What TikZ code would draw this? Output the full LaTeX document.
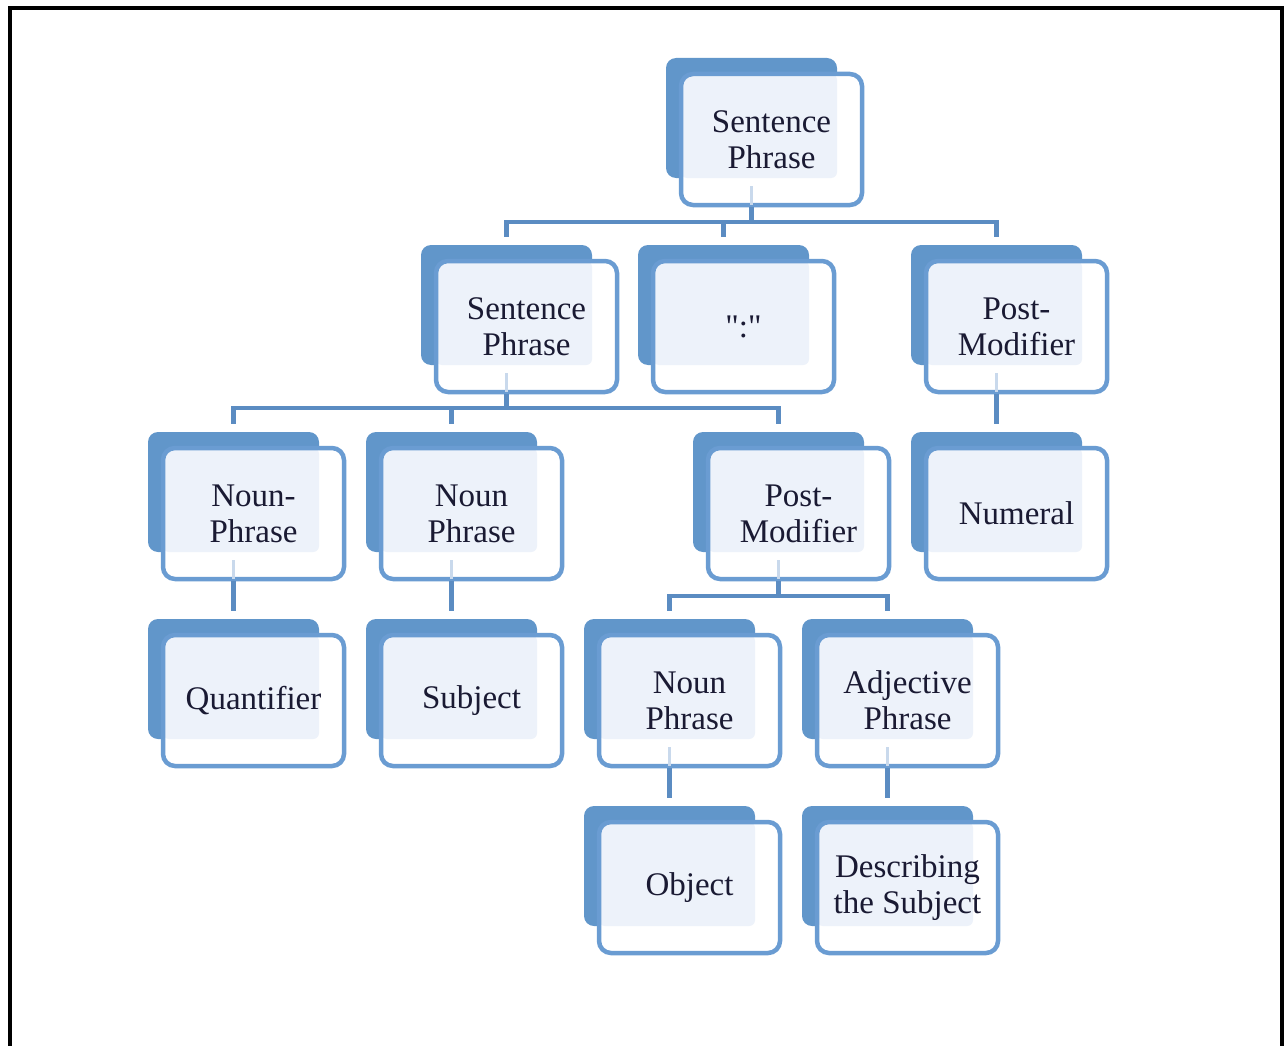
\documentclass[tikz,border=0pt]{standalone}
\usepackage{fontspec}
\setmainfont{Liberation Serif}[Ligatures=TeXOff]
\definecolor{backblue}{HTML}{6196CA}
\definecolor{lineblue}{HTML}{5B8CC2}
\definecolor{frontblue}{HTML}{6A9CD2}
\definecolor{lightfill}{HTML}{EDF2FA}
\definecolor{ghostblue}{HTML}{C9D9EC}
\definecolor{txt}{HTML}{1A1A33}
\tikzset{
  backbox/.style={draw=none, fill=backblue, rounded corners=10pt,
    minimum width=171pt, minimum height=120pt, inner sep=0pt},
  frontbox/.style={draw=frontblue, line width=4.5pt, fill=white, rounded corners=12pt,
    minimum width=181pt, minimum height=131pt, inner sep=0pt, align=center,
    text=txt, font=\fontsize{33}{36}\selectfont,
    path picture={\fill[lightfill, rounded corners=6pt]
      (path picture bounding box.north west) rectangle
      ([shift={(156pt,-104pt)}]path picture bounding box.north west);}},
  conn/.style={draw=lineblue, line width=4.5pt},
  ghostline/.style={draw=ghostblue, line width=3pt},
  frame/.style={draw=black, line width=4pt}
}
\newcommand\tbox[4]{%
  \node[backbox] (#1-bk) at (#2+85.5,#3+60) {};
  \node[frontbox] (#1) at (#2+105.5,#3+81.5) {#4};}
\newcommand\ghost[1]{%
  \draw[ghostline] ([yshift=-8pt]#1-bk.south) -- ([yshift=2pt]#1-bk.south |- #1.south);}
\begin{document}
\begin{tikzpicture}[x=1pt,y=-1pt]
\useasboundingbox (0,0) rectangle (1285,1046);
\draw[frame] (9.5,1046) -- (9.5,8) -- (1282,8) -- (1282,1046);

\tbox{A}{666}{58}{Sentence\\Phrase}
\tbox{B}{421}{245}{Sentence\\Phrase}
\tbox{C}{638}{245}{":"}
\tbox{D}{911}{245}{Post-\\Modifier}
\tbox{E}{148}{432}{Noun-\\Phrase}
\tbox{F}{366}{432}{Noun\\Phrase}
\tbox{G}{693}{432}{Post-\\Modifier}
\tbox{H}{911}{432}{Numeral}
\tbox{I}{148}{619}{Quantifier}
\tbox{J}{366}{619}{Subject}
\tbox{K}{584}{619}{Noun\\Phrase}
\tbox{L}{802}{619}{Adjective\\Phrase}
\tbox{M}{584}{806}{Object}
\tbox{N}{802}{806}{Describing\\the Subject}

\foreach \n in {A,B,D,E,F,G,K,L} {\ghost{\n}}

% connectors
\coordinate (barA) at (0,222);
\coordinate (barB) at (0,408);
\coordinate (barG) at (0,596);
\draw[conn] (A-bk.south |- A.south) -- (A-bk.south |- barA);
\draw[conn] ([yshift=8pt]B-bk.north) -- (B-bk.north |- barA) -- (D-bk.north |- barA) -- ([yshift=8pt]D-bk.north);
\draw[conn] (C-bk.north |- barA) -- ([yshift=8pt]C-bk.north);

\draw[conn] (B-bk.south |- B.south) -- (B-bk.south |- barB);
\draw[conn] ([yshift=8pt]E-bk.north) -- (E-bk.north |- barB) -- (G-bk.north |- barB) -- ([yshift=8pt]G-bk.north);
\draw[conn] (F-bk.north |- barB) -- ([yshift=8pt]F-bk.north);

\draw[conn] (D-bk.south |- D.south) -- ([yshift=8pt]H-bk.north);

\draw[conn] (G-bk.south |- G.south) -- (G-bk.south |- barG);
\draw[conn] ([yshift=8pt]K-bk.north) -- (K-bk.north |- barG) -- (L-bk.north |- barG) -- ([yshift=8pt]L-bk.north);

\draw[conn] (E-bk.south |- E.south) -- ([yshift=8pt]I-bk.north);
\draw[conn] (F-bk.south |- F.south) -- ([yshift=8pt]J-bk.north);
\draw[conn] (K-bk.south |- K.south) -- ([yshift=8pt]M-bk.north);
\draw[conn] (L-bk.south |- L.south) -- ([yshift=8pt]N-bk.north);
\end{tikzpicture}
\end{document}
